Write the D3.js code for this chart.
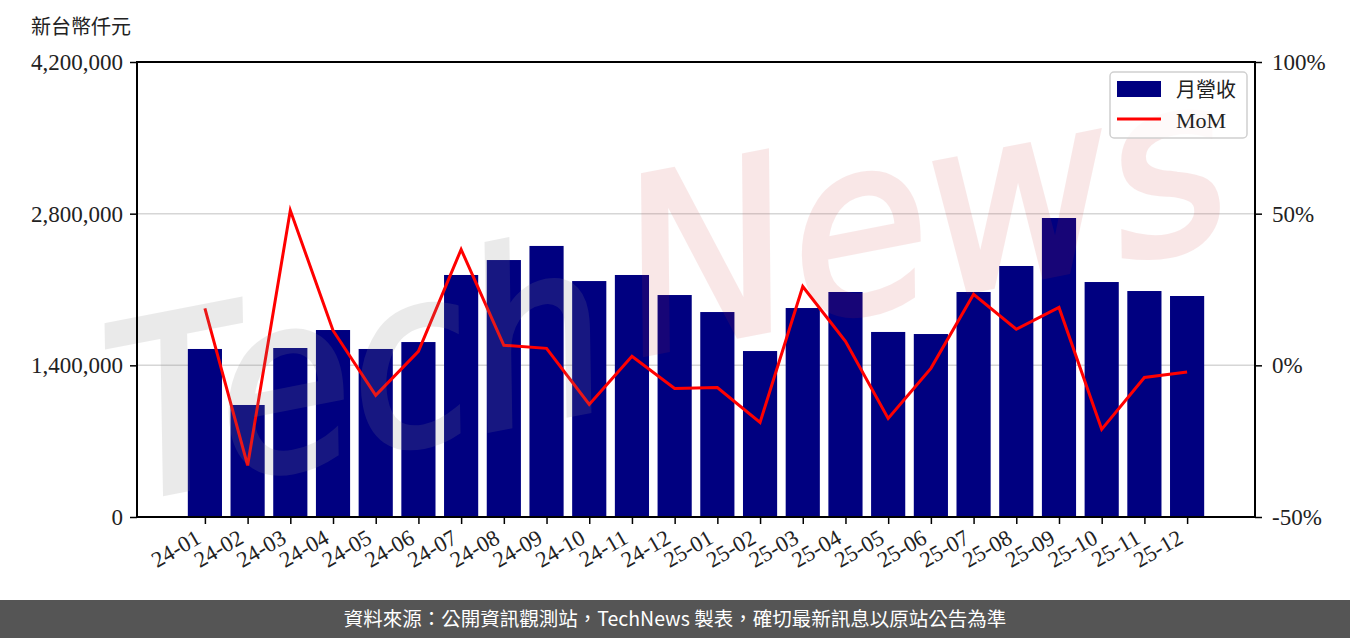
<!DOCTYPE html>
<html>
<head>
<meta charset="utf-8">
<script src="https://cdn.jsdelivr.net/npm/d3@7"></script>
<style>
  body { margin: 0; background: #fff; }
  svg text { font-family: "Liberation Serif", "Noto Sans CJK TC", serif; }
</style>
</head>
<body>
<svg id="chart"></svg>
<script>
// monthly revenue (NT$ thousand) and month-over-month change (%)
var months = ["24-01", "24-02", "24-03", "24-04", "24-05", "24-06", "24-07", "24-08", "24-09", "24-10", "24-11", "24-12",
              "25-01", "25-02", "25-03", "25-04", "25-05", "25-06", "25-07", "25-08", "25-09", "25-10", "25-11", "25-12"];
var revenue = [1551000, 1034000, 1560000, 1726000, 1551000, 1615000, 2234000, 2372000, 2502000, 2178000, 2234000, 2049000,
               1892000, 1532000, 1929000, 2077000, 1708000, 1689000, 2077000, 2317000, 2760000, 2169000, 2086000, 2040000];
var mom = [18.8, -33.0, 51.1, 11.5, -9.9, 4.6, 38.2, 6.6, 5.6, -12.9, 3.0, -7.6,
           -7.3, -18.8, 26.0, 7.9, -17.5, -1.0, 23.4, 11.9, 19.1, -21.1, -4.0, -2.2];
var leftTicks = [0, 1400000, 2800000, 4200000];
var rightTicks = [-50, 0, 50, 100];

var W = 1350, H = 638;
var m = { left: 137, right: 1255, top: 62, bottom: 517 };

var svg = d3.select("#chart").attr("width", W).attr("height", H);

var x = d3.scaleLinear().domain([-1.59, months.length - 1 + 1.59]).range([m.left, m.right]);
var yL = d3.scaleLinear().domain([0, 4200000]).range([m.bottom, m.top]);
var yR = d3.scaleLinear().domain([-50, 100]).range([m.bottom, m.top]);
var bw = x(0.8) - x(0);

// grid
svg.append("g").selectAll("line")
    .data(leftTicks.slice(1, -1))
    .enter().append("line")
    .attr("x1", m.left).attr("x2", m.right)
    .attr("y1", d => yL(d)).attr("y2", d => yL(d))
    .attr("stroke", "#d6d6d6").attr("stroke-width", 1.5);

// bars
svg.append("g").selectAll("rect")
    .data(revenue)
    .enter().append("rect")
    .attr("x", (d, i) => x(i) - bw / 2)
    .attr("width", bw)
    .attr("y", d => yL(d))
    .attr("height", d => yL(0) - yL(d))
    .attr("fill", "#000080");

// MoM line
svg.append("path")
    .datum(mom)
    .attr("fill", "none")
    .attr("stroke", "#ff0000")
    .attr("stroke-width", 3)
    .attr("stroke-linejoin", "miter")
    .attr("d", d3.line().x((d, i) => x(i)).y(d => yR(d)));

// watermark (faint logo across the plot)
var wm = svg.append("g").style("pointer-events", "none")
    .attr("transform", "translate(128,500) rotate(-11)");
wm.append("text").text("Tech")
    .attr("x", 0).attr("y", 0)
    .attr("textLength", 500).attr("lengthAdjust", "spacingAndGlyphs")
    .style("font-family", "'DejaVu Sans'").style("font-style", "italic")
    .style("font-size", "240px").attr("fill", "#888").attr("stroke", "#888").attr("stroke-width", 6)
    .attr("opacity", 0.17);
wm.append("text").text("News")
    .attr("x", 530).attr("y", -45)
    .attr("textLength", 610).attr("lengthAdjust", "spacingAndGlyphs")
    .style("font-family", "'DejaVu Sans'").style("font-style", "italic")
    .style("font-size", "240px").attr("fill", "#cc3333").attr("stroke", "#cc3333").attr("stroke-width", 6)
    .attr("opacity", 0.11);

// axes
var fmt = d3.format(",");
var axL = svg.append("g").attr("transform", "translate(" + m.left + ",0)")
    .call(d3.axisLeft(yL).tickValues(leftTicks).tickFormat(fmt).tickSize(7).tickPadding(7));
var axR = svg.append("g").attr("transform", "translate(" + m.right + ",0)")
    .call(d3.axisRight(yR).tickValues(rightTicks).tickFormat(d => d + "%").tickSize(7).tickPadding(10));
var axB = svg.append("g").attr("transform", "translate(0," + m.bottom + ")")
    .call(d3.axisBottom(x).tickValues(d3.range(months.length)).tickFormat(i => months[i]).tickSize(7));

[axL, axR, axB].forEach(function (a) {
    a.select(".domain").remove();
    a.selectAll(".tick line").attr("stroke", "#000").attr("stroke-width", 1.5);
    a.selectAll(".tick text").attr("fill", "#222").style("font-size", "23px")
        .style("font-family", "'Liberation Serif', serif");
});
axB.selectAll(".tick text")
    .style("font-size", "22.5px")
    .attr("text-anchor", "end")
    .attr("x", 0).attr("y", 0).attr("dy", 0)
    .attr("transform", "translate(-3,25) rotate(-30)");

// frame
svg.append("rect")
    .attr("x", m.left).attr("y", m.top)
    .attr("width", m.right - m.left).attr("height", m.bottom - m.top)
    .attr("fill", "none").attr("stroke", "#000").attr("stroke-width", 2);

// unit label
svg.append("text").text("新台幣仟元")
    .attr("x", 31).attr("y", 34)
    .style("font-family", "'Noto Sans CJK TC'").style("font-size", "20px").attr("fill", "#222");

// legend
var lg = svg.append("g").attr("transform", "translate(1110,72)");
lg.append("rect").attr("width", 137).attr("height", 66).attr("rx", 4)
    .attr("fill", "#fff").attr("fill-opacity", 0.8).attr("stroke", "#d0d0d0").attr("stroke-width", 1.5);
lg.append("rect").attr("x", 7).attr("y", 9).attr("width", 44).attr("height", 16).attr("fill", "#000080");
lg.append("line").attr("x1", 7).attr("x2", 51).attr("y1", 47).attr("y2", 47)
    .attr("stroke", "#ff0000").attr("stroke-width", 3);
lg.append("text").text("月營收").attr("x", 66).attr("y", 25)
    .style("font-family", "'Noto Sans CJK TC'").style("font-size", "20px").attr("fill", "#222");
lg.append("text").text("MoM").attr("x", 66).attr("y", 56)
    .style("font-size", "22px").attr("fill", "#222");

// footer
svg.append("rect").attr("x", 0).attr("y", 600).attr("width", W).attr("height", 38).attr("fill", "#555555");
svg.append("text").text("資料來源：公開資訊觀測站，TechNews 製表，確切最新訊息以原站公告為準")
    .attr("x", W / 2).attr("y", 626).attr("text-anchor", "middle")
    .style("font-family", "'Noto Sans CJK TC'").style("font-size", "19.5px").attr("fill", "#fff");
</script>
</body>
</html>
